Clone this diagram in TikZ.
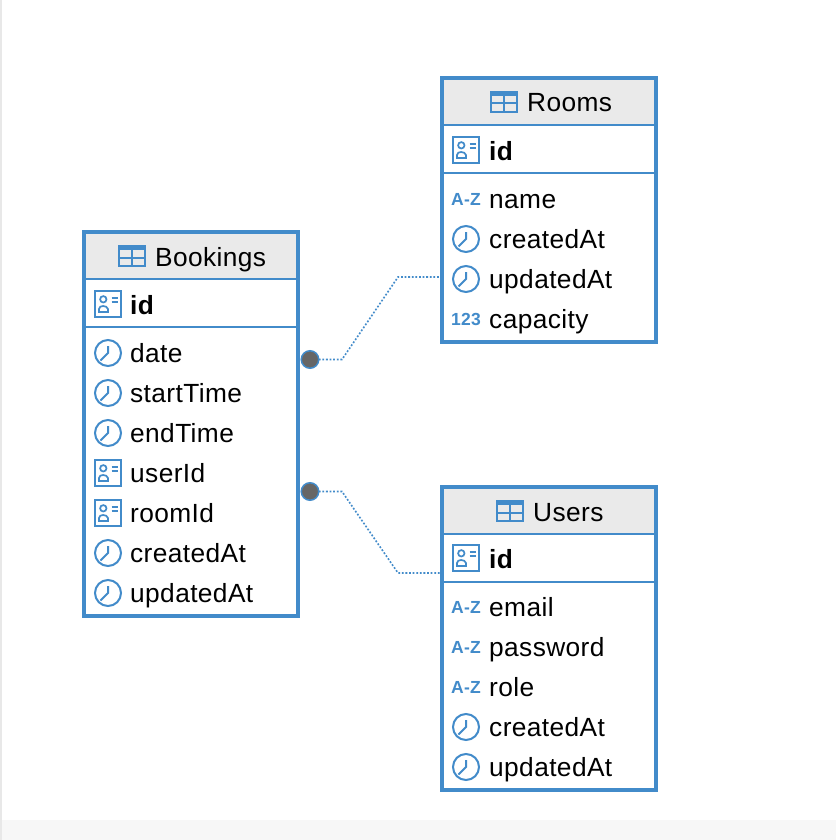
\documentclass[tikz,border=0pt]{standalone}
\usepackage{fontspec}
\setmainfont[LetterSpace=1.5]{Liberation Sans}
\usetikzlibrary{calc}
\definecolor{erblue}{HTML}{428BCA}
\definecolor{ergrey}{HTML}{EAEAEA}
\tikzset{
	tablebox/.style={draw=erblue, line width=4pt, inner sep=0pt, outer sep=0pt, minimum width=214pt},
	rowtext/.style={anchor=base west, inner sep=0pt, font=\fontsize{26.3}{30}\selectfont},
	keytext/.style={rowtext, font=\fontsize{26.3}{30}\selectfont\bfseries},
	typetext/.style={anchor=base, inner sep=0pt, text=erblue, font=\fontsize{17.5}{20}\selectfont\bfseries},
	separator/.style={draw=erblue, line width=2pt},
	relation/.style={draw=erblue, line width=1.6pt, dash pattern=on 1.8pt off 1.8pt},
	reldot/.style={circle, draw=erblue, fill=black!60, line width=1.5pt, minimum size=17.5pt, inner sep=0pt, outer sep=0pt},
}
\def\clockicon(#1,#2){
	\draw[erblue, line width=2pt] (#1,#2) circle (13);
	\draw[erblue, line width=2pt] (#1,#2-7) -- (#1,#2) -- (#1-7.5,#2+7.5);
}
\def\keyicon(#1,#2){
	\draw[erblue, line width=2pt] (#1-13,#2-13) rectangle (#1+13,#2+13);
	\draw[erblue, line width=1.7pt] (#1-4.7,#2-4.7) circle (3.2);
	\draw[erblue, line width=1.7pt] (#1-9,#2+8) -- (#1-9,#2+5) .. controls (#1-9,#2+1) and (#1-1,#2+1) .. (#1,#2+5) -- (#1,#2+8) -- cycle;
	\draw[erblue, line width=1.7pt] (#1+3.5,#2-6.3) -- (#1+10,#2-6.3);
	\draw[erblue, line width=1.7pt] (#1+3.5,#2-1.7) -- (#1+10,#2-1.7);
}
\def\tableicon(#1,#2){
	\fill[erblue] (#1,#2) rectangle (#1+28,#2+5);
	\draw[erblue, line width=2pt] (#1+1,#2+1) rectangle (#1+27,#2+21);
	\draw[erblue, line width=2pt] (#1+14,#2+4) -- (#1+14,#2+21);
	\draw[erblue, line width=2pt] (#1,#2+12.5) -- (#1+28,#2+12.5);
}

\begin{document}
\begin{tikzpicture}[x=1pt, y=-1pt]
	%%%%% page %%%%%
	\useasboundingbox (0, 0) rectangle (836, 840);
	\fill[white] (0, 0) rectangle (836, 840);
	\fill[black!3] (2, 820) rectangle (836, 840);
	\fill[black!9] (0, 0) rectangle (2, 840);

	%%%%% Bookings %%%%%
	\fill[ergrey] (84, 232) rectangle (298, 279);
	\node[tablebox, minimum height=384pt] (bookings) at (191, 424) {};
	\draw[separator] (84, 279) -- (298, 279);
	\draw[separator] (84, 327) -- (298, 327);
	\tableicon(118, 245);
	\node[rowtext] (bookingsTitle) at (155, 266) {Bookings};
	\keyicon(108, 304);
	\node[keytext] (bookingsId) at (130, 314) {id};
	\clockicon(108, 353);
	\node[rowtext] (bookingsDate) at (130, 362) {date};
	\clockicon(108, 393);
	\node[rowtext] (bookingsStart) at (130, 402) {startTime};
	\clockicon(108, 433);
	\node[rowtext] (bookingsEnd) at (130, 442) {endTime};
	\keyicon(108, 473);
	\node[rowtext] (bookingsUser) at (130, 482) {userId};
	\keyicon(108, 513);
	\node[rowtext] (bookingsRoom) at (130, 522) {roomId};
	\clockicon(108, 553);
	\node[rowtext] (bookingsCreated) at (130, 562) {createdAt};
	\clockicon(108, 593);
	\node[rowtext] (bookingsUpdated) at (130, 602) {updatedAt};

	%%%%% Rooms %%%%%
	\fill[ergrey] (442, 78) rectangle (656, 125);
	\node[tablebox, minimum height=264pt] (rooms) at (549, 210) {};
	\draw[separator] (442, 125) -- (656, 125);
	\draw[separator] (442, 173) -- (656, 173);
	\tableicon(490, 91);
	\node[rowtext] (roomsTitle) at (527, 112) {Rooms};
	\keyicon(466, 150);
	\node[keytext] (roomsId) at (489, 160) {id};
	\node[typetext] (roomsNameType) at (466, 205) {A-Z};
	\node[rowtext] (roomsName) at (489, 208) {name};
	\clockicon(466, 239);
	\node[rowtext] (roomsCreated) at (489, 248) {createdAt};
	\clockicon(466, 279);
	\node[rowtext] (roomsUpdated) at (489, 288) {updatedAt};
	\node[typetext] (roomsCapacityType) at (466, 325) {123};
	\node[rowtext] (roomsCapacity) at (489, 328) {capacity};

	%%%%% Users %%%%%
	\fill[ergrey] (442, 487) rectangle (656, 534);
	\node[tablebox, minimum height=303pt] (users) at (549, 638.5) {};
	\draw[separator] (442, 534) -- (656, 534);
	\draw[separator] (442, 582) -- (656, 582);
	\tableicon(496, 500);
	\node[rowtext] (usersTitle) at (533, 521) {Users};
	\keyicon(466, 558);
	\node[keytext] (usersId) at (489, 568) {id};
	\node[typetext] (usersEmailType) at (466, 613) {A-Z};
	\node[rowtext] (usersEmail) at (489, 616) {email};
	\node[typetext] (usersPasswordType) at (466, 653) {A-Z};
	\node[rowtext] (usersPassword) at (489, 656) {password};
	\node[typetext] (usersRoleType) at (466, 693) {A-Z};
	\node[rowtext] (usersRole) at (489, 696) {role};
	\clockicon(466, 727);
	\node[rowtext] (usersCreated) at (489, 736) {createdAt};
	\clockicon(466, 767);
	\node[rowtext] (usersUpdated) at (489, 776) {updatedAt};

	%%%%% relations %%%%%
	\node[reldot] (roomDot) at (310, 359.5) {};
	\node[reldot] (userDot) at (310, 491.5) {};
	\coordinate (roomEnd) at (440, 277);
	\coordinate (userEnd) at (440, 573);
	\draw[relation] (roomDot) -- (342, 359.5) -- (398, 277) -- (roomEnd);
	\draw[relation] (userDot) -- (342, 491.5) -- (398, 573) -- (userEnd);
\end{tikzpicture}
\end{document}
